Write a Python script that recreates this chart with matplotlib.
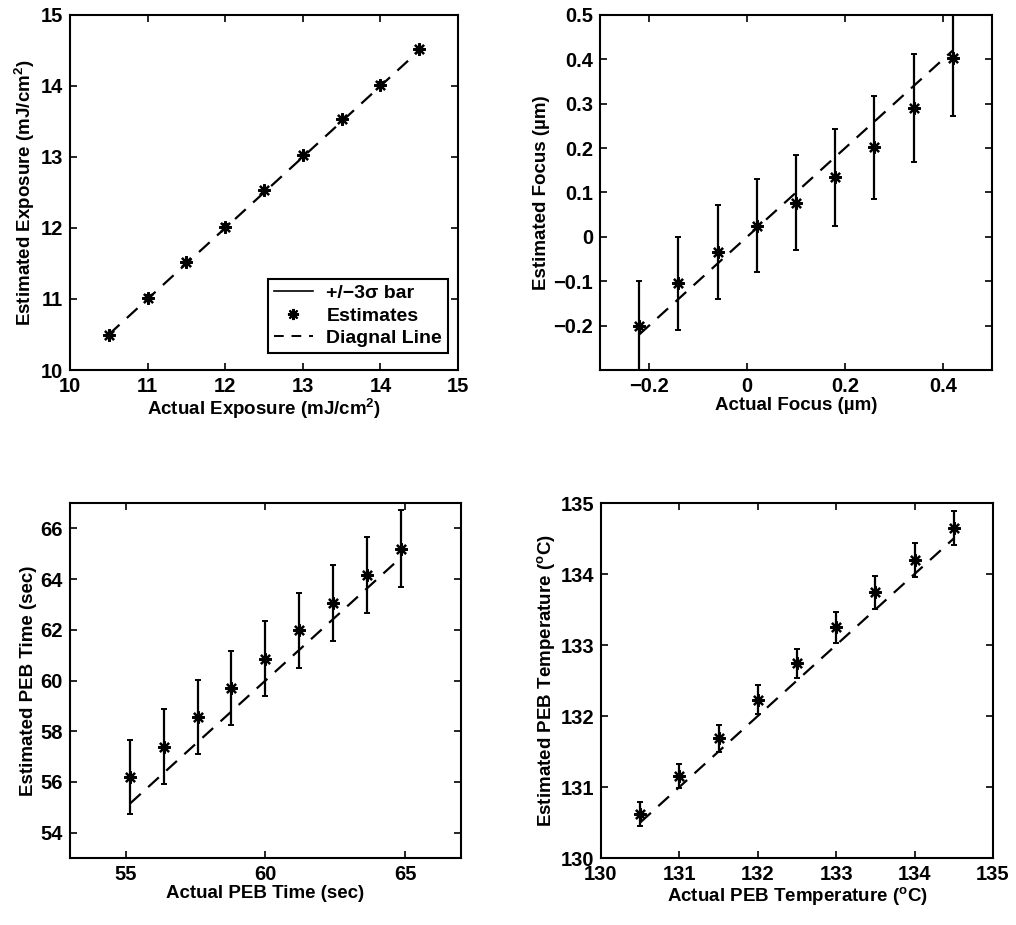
import matplotlib
matplotlib.use("Agg")
import matplotlib.pyplot as plt
from matplotlib.lines import Line2D

plt.rcParams['font.family'] = ['Liberation Sans', 'DejaVu Sans']
plt.rcParams['font.weight'] = 'bold'
plt.rcParams['mathtext.fontset'] = 'custom'
plt.rcParams['mathtext.rm'] = 'Liberation Sans:bold'
plt.rcParams['mathtext.bf'] = 'Liberation Sans:bold'
plt.rcParams['mathtext.default'] = 'bf'

# ---- data ----
exp_actual = [10.5, 11.0, 11.5, 12.0, 12.5, 13.0, 13.5, 14.0, 14.5]
exp_est = [10.49, 11.02, 11.52, 12.02, 12.53, 13.03, 13.53, 14.02, 14.52]
exp_err = [0.03, 0.03, 0.03, 0.03, 0.03, 0.03, 0.03, 0.03, 0.03]

focus_actual = [-0.22, -0.14, -0.06, 0.02, 0.10, 0.18, 0.26, 0.34, 0.42]
focus_est = [-0.200, -0.105, -0.034, 0.025, 0.077, 0.134, 0.202, 0.291, 0.402]
focus_err = [0.100, 0.104, 0.105, 0.105, 0.107, 0.110, 0.116, 0.122, 0.130]

time_actual = [55.15, 56.36, 57.57, 58.78, 60.0, 61.21, 62.42, 63.63, 64.85]
time_est = [56.20, 57.39, 58.57, 59.71, 60.86, 61.98, 63.06, 64.15, 65.19]
time_err = [1.45, 1.47, 1.47, 1.47, 1.48, 1.48, 1.50, 1.50, 1.52]

temp_actual = [130.5, 131.0, 131.5, 132.0, 132.5, 133.0, 133.5, 134.0, 134.5]
temp_est = [130.62, 131.15, 131.69, 132.23, 132.74, 133.25, 133.74, 134.20, 134.65]
temp_err = [0.17, 0.17, 0.19, 0.20, 0.21, 0.22, 0.23, 0.24, 0.24]

panels = [
    dict(x=exp_actual, y=exp_est, e=exp_err,
         xlim=(10, 15), ylim=(10, 15),
         xticks=[10, 11, 12, 13, 14, 15], xtl=['10', '11', '12', '13', '14', '15'],
         yticks=[10, 11, 12, 13, 14, 15], ytl=['10', '11', '12', '13', '14', '15'],
         xlabel='Actual Exposure (mJ/cm$^{2}$)', ylabel='Estimated Exposure (mJ/cm$^{2}$)',
         pos=[0.0689, 0.6, 0.382, 0.3838]),
    dict(x=focus_actual, y=focus_est, e=focus_err,
         xlim=(-0.3, 0.5), ylim=(-0.3, 0.5),
         xticks=[-0.2, 0, 0.2, 0.4], xtl=['\u22120.2', '0', '0.2', '0.4'],
         yticks=[-0.2, -0.1, 0, 0.1, 0.2, 0.3, 0.4, 0.5],
         ytl=['\u22120.2', '\u22120.1', '0', '0.1', '0.2', '0.3', '0.4', '0.5'],
         xlabel='Actual Focus (\u00b5m)', ylabel='Estimated Focus (\u00b5m)',
         pos=[0.5906, 0.6, 0.3858, 0.3838]),
    dict(x=time_actual, y=time_est, e=time_err,
         xlim=(53, 67), ylim=(53, 67),
         xticks=[55, 60, 65], xtl=['55', '60', '65'],
         yticks=[54, 56, 58, 60, 62, 64, 66], ytl=['54', '56', '58', '60', '62', '64', '66'],
         xlabel='Actual PEB Time (sec)', ylabel='Estimated PEB Time (sec)',
         pos=[0.0689, 0.0724, 0.3848, 0.3838]),
    dict(x=temp_actual, y=temp_est, e=temp_err,
         xlim=(130, 135), ylim=(130, 135),
         xticks=[130, 131, 132, 133, 134, 135], xtl=['130', '131', '132', '133', '134', '135'],
         yticks=[130, 131, 132, 133, 134, 135], ytl=['130', '131', '132', '133', '134', '135'],
         xlabel='Actual PEB Temperature ($^{o}$C)', ylabel='Estimated PEB Temperature ($^{o}$C)',
         pos=[0.5915, 0.0724, 0.3858, 0.3838]),
]

fig = plt.figure(figsize=(10.16, 9.25), dpi=100)

for i, p in enumerate(panels):
    ax = fig.add_axes(p['pos'])
    ax.errorbar(p['x'], p['y'], yerr=p['e'], fmt='none', ecolor='black',
                elinewidth=1.6, capsize=2.5, capthick=1.4, zorder=2)
    ax.plot(p['x'], p['y'], linestyle='none', marker=(8, 2, 0), markersize=9,
            markeredgewidth=1.6, color='black', zorder=3)
    ax.plot([p['x'][0], p['x'][-1]], [p['x'][0], p['x'][-1]], color='black',
            linewidth=1.6, dashes=(6.5, 4.5), zorder=2)
    ax.set_xlim(*p['xlim'])
    ax.set_ylim(*p['ylim'])
    ax.set_xticks(p['xticks'])
    ax.set_xticklabels(p['xtl'])
    ax.set_yticks(p['yticks'])
    ax.set_yticklabels(p['ytl'])
    ax.tick_params(direction='in', top=True, right=True, length=5, width=1.2,
                   labelsize=14.5, pad=5)
    for lab in ax.get_xticklabels() + ax.get_yticklabels():
        lab.set_fontweight('bold')
    for s in ax.spines.values():
        s.set_linewidth(1.5)
    ax.set_xlabel(p['xlabel'], fontsize=13.5, fontweight='bold', labelpad=1)
    ax.set_ylabel(p['ylabel'], fontsize=13.5, fontweight='bold', labelpad=2.5)
    if i == 0:
        handles = [
            Line2D([], [], color='black', linewidth=1.2),
            Line2D([], [], color='black', linestyle='none', marker=(8, 2, 0),
                   markersize=8, markeredgewidth=1.5),
            Line2D([], [], color='black', linewidth=1.4, dashes=(5, 4)),
        ]
        leg = ax.legend(handles, ['+/\u22123\u03c3 bar', 'Estimates', 'Diagnal Line'],
                        loc='lower right', bbox_to_anchor=(0.974, 0.048),
                        borderaxespad=0, fancybox=False, framealpha=1,
                        edgecolor='black', handlelength=2.0,
                        handletextpad=0.7, labelspacing=0.25, borderpad=0.3,
                        prop={'weight': 'bold', 'size': 14})
        leg.get_frame().set_linewidth(1.5)

fig.savefig('out.png', dpi=100)
